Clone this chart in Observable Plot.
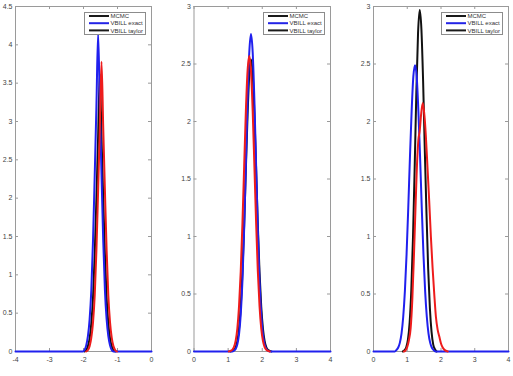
<!DOCTYPE html>
<html>
<head>
<meta charset="utf-8">
<script src="https://cdn.jsdelivr.net/npm/d3@7"></script>
<script src="https://cdn.jsdelivr.net/npm/@observablehq/plot@0.6"></script>
<style>
  body { margin: 0; background: #fff; }
  #fig { position: relative; width: 513px; height: 376px; font-family: "Liberation Sans", Arial, Helvetica, sans-serif; }
  .panel { position: absolute; top: 0; }
  .legend { position: absolute; }
</style>
</head>
<body>
<div id="fig"></div>
<script>
// Posterior density estimates for three parameters (x: parameter value, y: density)

// Panel 1
const p1McmcX = [-1.97, -1.92, -1.87, -1.82, -1.77, -1.72, -1.67, -1.62, -1.57, -1.52, -1.47, -1.42, -1.37, -1.32, -1.27, -1.22, -1.17, -1.12, -1.07];
const p1McmcY = [0, 0.02, 0.07, 0.17, 0.37, 0.7, 1.27, 2.0, 2.8, 3.62, 2.8, 2.0, 1.27, 0.7, 0.37, 0.17, 0.07, 0.02, 0];
const p1ExactX = [-4, -2.02, -1.97, -1.92, -1.87, -1.82, -1.77, -1.72, -1.67, -1.62, -1.57, -1.52, -1.47, -1.42, -1.37, -1.32, -1.27, -1.22, -1.17, -1.12, 0];
const p1ExactY = [0, 0, 0.02, 0.08, 0.2, 0.42, 0.8, 1.45, 2.3, 3.2, 4.15, 3.2, 2.3, 1.45, 0.8, 0.42, 0.2, 0.08, 0.02, 0, 0];
const p1TaylorX = [-1.92, -1.87, -1.82, -1.77, -1.72, -1.67, -1.62, -1.57, -1.52, -1.47, -1.42, -1.37, -1.32, -1.27, -1.22, -1.17, -1.12, -1.07, -1.02];
const p1TaylorY = [0, 0.02, 0.07, 0.18, 0.38, 0.73, 1.32, 2.1, 2.92, 3.78, 2.92, 2.1, 1.32, 0.73, 0.38, 0.18, 0.07, 0.02, 0];

// Panel 2
const p2McmcX = [1.07, 1.12, 1.17, 1.22, 1.27, 1.32, 1.37, 1.42, 1.47, 1.52, 1.57, 1.62, 1.67, 1.72, 1.77, 1.82, 1.87, 1.92, 1.97, 2.02, 2.07, 2.12, 2.17, 2.22, 2.27];
const p2McmcY = [0, 0.005, 0.014, 0.037, 0.09, 0.2, 0.39, 0.69, 1.1, 1.59, 2.06, 2.41, 2.54, 2.41, 2.06, 1.59, 1.1, 0.69, 0.39, 0.2, 0.09, 0.037, 0.014, 0.005, 0];
const p2ExactX = [0, 1.12, 1.17, 1.22, 1.27, 1.32, 1.37, 1.42, 1.47, 1.52, 1.57, 1.62, 1.67, 1.72, 1.77, 1.82, 1.87, 1.92, 1.97, 2.02, 2.07, 2.12, 2.17, 2.22, 4];
const p2ExactY = [0, 0, 0.007, 0.022, 0.062, 0.15, 0.325, 0.62, 1.07, 1.62, 2.18, 2.6, 2.76, 2.6, 2.18, 1.62, 1.07, 0.62, 0.325, 0.15, 0.062, 0.022, 0.007, 0, 0];
const p2TaylorX = [1.02, 1.07, 1.12, 1.17, 1.22, 1.27, 1.32, 1.37, 1.42, 1.47, 1.52, 1.57, 1.62, 1.67, 1.72, 1.77, 1.82, 1.87, 1.92, 1.97, 2.02, 2.07, 2.12, 2.17, 2.22];
const p2TaylorY = [0, 0.005, 0.014, 0.038, 0.092, 0.2, 0.395, 0.7, 1.12, 1.61, 2.09, 2.44, 2.57, 2.44, 2.09, 1.61, 1.12, 0.7, 0.395, 0.2, 0.092, 0.038, 0.014, 0.005, 0];

// Panel 3
const p3McmcX = [0.87, 0.92, 0.97, 1.02, 1.07, 1.12, 1.17, 1.22, 1.27, 1.32, 1.37, 1.42, 1.47, 1.52, 1.57, 1.62, 1.67, 1.72, 1.77, 1.82, 1.87];
const p3McmcY = [0, 0.011, 0.037, 0.103, 0.25, 0.535, 0.99, 1.6, 2.26, 2.77, 2.97, 2.8, 2.35, 1.75, 1.2, 0.72, 0.38, 0.17, 0.06, 0.02, 0];
const p3ExactX = [0, 0.63, 0.68, 0.73, 0.78, 0.83, 0.88, 0.93, 0.98, 1.03, 1.08, 1.13, 1.18, 1.23, 1.28, 1.33, 1.38, 1.43, 1.48, 1.53, 1.58, 1.63, 1.68, 1.73, 1.78, 1.83, 4];
const p3ExactY = [0, 0, 0.013, 0.033, 0.075, 0.156, 0.3, 0.525, 0.845, 1.25, 1.69, 2.09, 2.39, 2.49, 2.39, 2.09, 1.69, 1.25, 0.845, 0.525, 0.3, 0.156, 0.075, 0.033, 0.013, 0, 0];
const p3TaylorX = [0.9, 0.95, 1.0, 1.05, 1.1, 1.15, 1.2, 1.25, 1.3, 1.33, 1.37, 1.41, 1.46, 1.51, 1.55, 1.6, 1.65, 1.7, 1.75, 1.8, 1.85, 1.9, 1.95, 2.0, 2.05, 2.1, 2.2];
const p3TaylorY = [0, 0.01, 0.04, 0.1, 0.2, 0.45, 0.85, 1.3, 1.7, 1.84, 1.92, 2.06, 2.16, 2.05, 1.88, 1.6, 1.31, 1.0, 0.73, 0.5, 0.3, 0.19, 0.13, 0.07, 0.035, 0.015, 0];

// Axis ticks
const p1XTicks = [-4, -3, -2, -1, 0];
const p1YTicks = [0, 0.5, 1, 1.5, 2, 2.5, 3, 3.5, 4, 4.5];
const p23XTicks = [0, 1, 2, 3, 4];
const p23YTicks = [0, 0.5, 1, 1.5, 2, 2.5, 3];

// Legend entries (the taylor entry is drawn in black in the legend)
const legendLabels = ["MCMC", "VBILL exact", "VBILL taylor"];
const legendColors = ["#1a1a1a", "#2323e6", "#1a1a1a"];

const colMcmc = "#111111", colExact = "#2020ee", colTaylor = "#ee1c1c";

const H = 376, MT = 6, MB = 25;

const panels = [
  { left: 0, width: 160, ml: 15, mr: 9, xDomain: [-4, 0], yDomain: [0, 4.5], xTicks: p1XTicks, yTicks: p1YTicks,
    series: [[p1McmcX, p1McmcY, colMcmc], [p1ExactX, p1ExactY, colExact], [p1TaylorX, p1TaylorY, colTaylor]] },
  { left: 170, width: 170, ml: 23.5, mr: 10, xDomain: [0, 4], yDomain: [0, 3], xTicks: p23XTicks, yTicks: p23YTicks,
    series: [[p2McmcX, p2McmcY, colMcmc], [p2ExactX, p2ExactY, colExact], [p2TaylorX, p2TaylorY, colTaylor]] },
  { left: 345, width: 168, ml: 28, mr: 5, xDomain: [0, 4], yDomain: [0, 3], xTicks: p23XTicks, yTicks: p23YTicks,
    series: [[p3McmcX, p3McmcY, colMcmc], [p3ExactX, p3ExactY, colExact], [p3TaylorX, p3TaylorY, colTaylor]] }
];

const fig = document.getElementById("fig");
const tickLen = 3;
const axisCol = "#9a9a9a";
const labelCol = "#444";

for (const p of panels) {
  const plotW = p.width - p.ml - p.mr;
  const plotH = H - MT - MB;
  const fmt = d => String(d);
  const chart = Plot.plot({
    width: p.width,
    height: H,
    marginLeft: p.ml,
    marginRight: p.mr,
    marginTop: MT,
    marginBottom: MB,
    style: { background: "transparent", fontFamily: "\"Liberation Sans\", Arial, sans-serif", overflow: "visible" },
    x: { domain: p.xDomain },
    y: { domain: p.yDomain },
    marks: [
      Plot.frame({ stroke: axisCol, strokeWidth: 1 }),
      // inward ticks on all four sides
      Plot.tickX(p.xTicks, { x: d => d, stroke: axisCol, insetTop: plotH - tickLen }),
      Plot.tickX(p.xTicks, { x: d => d, stroke: axisCol, insetBottom: plotH - tickLen }),
      Plot.tickY(p.yTicks, { y: d => d, stroke: axisCol, insetRight: plotW - tickLen }),
      Plot.tickY(p.yTicks, { y: d => d, stroke: axisCol, insetLeft: plotW - tickLen }),
      Plot.axisX(p.xTicks, { tickSize: 0, tickPadding: 6, fontSize: 7, tickFormat: fmt, label: null, color: labelCol }),
      Plot.axisY(p.yTicks, { tickSize: 0, tickPadding: 3, fontSize: 7, tickFormat: fmt, label: null, color: labelCol }),
      ...p.series.map(([X, Y, c]) =>
        Plot.line(Y, { x: X, y: Y, stroke: c, strokeWidth: 2, curve: "monotone-x" })
      )
    ]
  });
  chart.classList.add("panel");
  chart.style.left = p.left + "px";
  fig.appendChild(chart);

  // legend box in the upper right corner of the axes
  const lw = 61, lh = 22;
  const frameRight = p.left + p.width - p.mr;
  const ns = "http://www.w3.org/2000/svg";
  const leg = document.createElementNS(ns, "svg");
  leg.setAttribute("width", lw + 1);
  leg.setAttribute("height", lh + 1);
  leg.classList.add("legend");
  leg.style.left = (frameRight - 67) + "px";
  leg.style.top = (MT + 6) + "px";
  const box = document.createElementNS(ns, "rect");
  box.setAttribute("x", 0.5); box.setAttribute("y", 0.5);
  box.setAttribute("width", lw); box.setAttribute("height", lh);
  box.setAttribute("fill", "#fff"); box.setAttribute("stroke", "#8c8c8c");
  leg.appendChild(box);
  legendLabels.forEach((lab, i) => {
    const y = 4 + i * 7.2;
    const ln = document.createElementNS(ns, "line");
    ln.setAttribute("x1", 5); ln.setAttribute("x2", 25);
    ln.setAttribute("y1", y); ln.setAttribute("y2", y);
    ln.setAttribute("stroke", legendColors[i]); ln.setAttribute("stroke-width", 2);
    leg.appendChild(ln);
    const t = document.createElementNS(ns, "text");
    t.setAttribute("x", 26.5); t.setAttribute("y", y + 2.1);
    t.setAttribute("font-size", 6);
    t.setAttribute("fill", "#333");
    t.setAttribute("font-family", "\"Liberation Sans\", Arial, sans-serif");
    t.textContent = lab;
    leg.appendChild(t);
  });
  fig.appendChild(leg);
}
</script>
</body>
</html>
